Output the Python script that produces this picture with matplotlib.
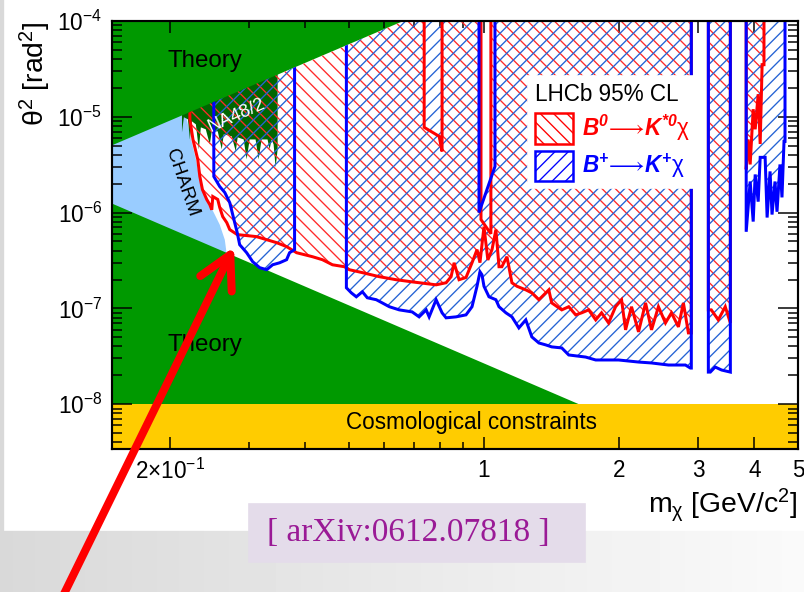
import numpy as np
import matplotlib
matplotlib.use("Agg")
import matplotlib.pyplot as plt
from matplotlib.patches import Polygon, Rectangle, Patch
from matplotlib.ticker import NullFormatter, FixedLocator, LogLocator

plt.rcParams['font.family'] = ['Liberation Sans', 'DejaVu Sans']
plt.rcParams['mathtext.fontset'] = 'custom'
plt.rcParams['mathtext.rm'] = 'Liberation Sans'
plt.rcParams['mathtext.it'] = 'Liberation Sans:italic'
plt.rcParams['mathtext.bf'] = 'Liberation Sans:bold:italic'
plt.rcParams['mathtext.default'] = 'regular'
plt.rcParams['mathtext.fallback'] = 'stix'
plt.rcParams['hatch.linewidth'] = 0.8

# ---- data (m in GeV, theta^2 in rad^2) ----
# 1e-3 = excluded all the way up (vetoed / off the plot)
b0_mass = [0.2215, 0.2215, 0.2250, 0.2306, 0.2331, 0.2362, 0.2415, 0.2453, 0.2478, 0.2491,
           0.2555, 0.2581, 0.2621, 0.2676, 0.2717, 0.2823, 0.3115, 0.3283, 0.3455, 0.3636,
           0.3827, 0.4152, 0.4369, 0.4600, 0.4890, 0.5017, 0.5362, 0.5848, 0.6377, 0.6920,
           0.7824, 0.8235, 0.8449, 0.8580, 0.8801, 0.9120, 0.9405, 0.9649, 0.9797, 1.000,
           1.020, 1.042, 1.063, 1.080, 1.096, 1.125, 1.154, 1.184, 1.239, 1.278,
           1.325, 1.394, 1.415, 1.490, 1.544, 1.600, 1.650, 1.710, 1.773, 1.827,
           1.894, 1.963, 2.024, 2.066, 2.130, 2.208, 2.289, 2.360, 2.445, 2.535,
           2.614, 2.709, 2.779, 2.851, 2.894, 2.894, 3.158, 3.158, 3.206, 3.323,
           3.444, 3.535, 3.535, 3.834, 3.834, 3.873, 3.913, 3.974, 4.015, 4.077,
           4.119, 4.160, 4.200, 4.200]
b0_limit = [1e-3, 9.4e-6, 5.8e-6, 3.59e-6, 2.38e-6, 1.74e-6, 1.37e-6, 1.21e-6, 1.07e-6, 1.47e-6,
            1.37e-6, 1.13e-6, 9.07e-7, 7.85e-7, 6.64e-7, 5.89e-7, 5.61e-7, 5.21e-7, 4.85e-7, 4.41e-7,
            3.81e-7, 3.46e-7, 3.22e-7, 2.85e-7, 2.72e-7, 2.53e-7, 2.36e-7, 2.14e-7, 1.99e-7, 1.89e-7,
            1.76e-7, 1.85e-7, 2.14e-7, 2.99e-7, 1.99e-7, 2.10e-7, 2.99e-7, 4.10e-7, 3.00e-7, 7.13e-7,
            3.20e-7, 4.10e-7, 6.64e-7, 2.72e-7, 2.72e-7, 3.46e-7, 1.85e-7, 1.70e-7, 1.56e-7, 1.45e-7,
            1.23e-7, 1.56e-7, 1.14e-7, 9.64e-8, 1.04e-7, 8.55e-8, 8.98e-8, 9.64e-8, 7.58e-8, 8.98e-8,
            7.04e-8, 1.04e-7, 1.23e-7, 5.96e-8, 1.04e-7, 5.68e-8, 1.14e-7, 5.96e-8, 1.04e-7, 7.04e-8,
            8.98e-8, 6.40e-8, 1.14e-7, 5.54e-8, 5.54e-8, 1e-3, 1e-3, 9.64e-8, 9.64e-8, 7.58e-8,
            1.04e-7, 7.04e-8, 1e-3, 1e-3, 2.82e-6, 5.8e-6, 3.18e-6, 1.2e-5, 7.4e-6, 1.72e-5,
            5.2e-6, 3.5e-5, 3.5e-5, 1e-3]
# upper edge of the B0 exclusion (notches where high theta^2 is not excluded)
b0_top_mass = [0.2215, 0.7360, 0.7360, 0.7947, 0.8067, 0.8067, 0.9848, 0.9848, 1.036, 1.036, 4.200]
b0_top_limit = [1e-3, 1e-3, 7.76e-6, 6.25e-6, 4.35e-6, 1e-3, 1e-3, 8.45e-7, 6.0e-7, 1e-3, 1e-3]

bp_mass = [0.2504, 0.2504, 0.2581, 0.2649, 0.2717, 0.2787, 0.2823, 0.2859, 0.2963, 0.3056,
           0.3167, 0.3283, 0.3385, 0.3508, 0.3636, 0.3692, 0.3788, 0.3788, 0.4940, 0.4940,
           0.5068, 0.5198, 0.5362, 0.5499, 0.5759, 0.5937, 0.6155, 0.6477, 0.6920, 0.7172,
           0.7435, 0.7550, 0.7824, 0.8067, 0.8235, 0.8667, 0.9120, 0.9405, 0.9649, 0.9797,
           0.9898, 1.000, 1.026, 1.063, 1.080, 1.119, 1.154, 1.196, 1.239, 1.278,
           1.325, 1.373, 1.415, 1.490, 1.544, 1.684, 1.773, 1.866, 1.993, 2.208,
           2.360, 2.574, 2.808, 2.880, 2.894, 2.894, 3.158, 3.158, 3.190, 3.270,
           3.380, 3.535, 3.535, 3.834, 3.834, 3.913, 3.974, 4.015, 4.077, 4.119,
           4.225, 4.268, 4.333, 4.377, 4.444, 4.490, 4.559, 4.606, 4.654, 4.678,
           4.678]
bp_limit = [1e-3, 2.38e-6, 1.87e-6, 1.62e-6, 1.27e-6, 7.85e-7, 6.18e-7, 4.62e-7, 3.81e-7, 3.07e-7,
            2.66e-7, 2.53e-7, 2.85e-7, 2.99e-7, 3.22e-7, 3.81e-7, 4.10e-7, 1e-3, 1e-3, 1.64e-7,
            1.45e-7, 1.32e-7, 1.49e-7, 1.29e-7, 1.23e-7, 1.14e-7, 1.04e-7, 9.64e-8, 9.18e-8, 8.15e-8,
            9.64e-8, 8.15e-8, 1.23e-7, 8.98e-8, 7.96e-8, 8.15e-8, 8.55e-8, 1.04e-7, 1.70e-7, 2.41e-7,
            2.24e-7, 1.70e-7, 1.32e-7, 1.23e-7, 1.04e-7, 8.98e-8, 8.15e-8, 6.25e-8, 7.58e-8, 5.03e-8,
            4.35e-8, 4.15e-8, 3.96e-8, 3.86e-8, 3.26e-8, 3.10e-8, 2.89e-8, 2.89e-8, 2.89e-8, 2.75e-8,
            2.69e-8, 2.56e-8, 2.56e-8, 2.38e-8, 2.38e-8, 1e-3, 1e-3, 2.16e-8, 2.16e-8, 2.44e-8,
            2.27e-8, 2.16e-8, 1e-3, 1e-3, 6.3e-7, 2.11e-6, 8.05e-7, 2.5e-6, 1.30e-6, 3.77e-6,
            3.77e-6, 8.87e-7, 2.69e-6, 9.53e-7, 2.11e-6, 1.02e-6, 3.18e-6, 1.44e-6, 5.54e-6, 5.54e-6,
            1e-3]
bp_top_mass = [0.2504, 0.9748, 0.9748, 1.058, 1.058, 4.678]
bp_top_limit = [1e-3, 1e-3, 1.0e-6, 3.03e-6, 1e-3, 1e-3]

# theory bands and other experiments
theory_hi_mass = [0.14, 0.70]
theory_hi_limit = [4.47e-6, 1.12e-4]
theory_lo_mass = [0.14, 1.625]
theory_lo_limit = [1.40e-6, 1.0e-8]
cosmo_limit = 1.0e-8

charm_mass = [0.14, 0.2137, 0.2215, 0.2284, 0.2331, 0.2391, 0.2453, 0.2516, 0.2581, 0.2649, 0.2676, 0.14]
charm_limit = [1.5e-5, 1.52e-5, 6.56e-6, 3.59e-6, 2.22e-6, 1.54e-6, 1.21e-6, 9.53e-7, 7.48e-7, 5.21e-7, 3.63e-7, 3.63e-7]

na48_mass = [0.2127, 0.2127, 0.2148, 0.2193, 0.2215, 0.2238, 0.2284, 0.2319, 0.2343, 0.2403,
             0.2453, 0.2478, 0.2555, 0.2608, 0.2635, 0.2745, 0.2802, 0.2830, 0.2918, 0.2963,
             0.3009, 0.3102, 0.3150, 0.3199, 0.3298, 0.3333, 0.3367, 0.3402, 0.3437, 0.3473,
             0.3473, 0.2127]
na48_limit = [3e-5, 6.88e-6, 9.89e-6, 9.4e-6, 5.8e-6, 8.97e-6, 8.34e-6, 4.57e-6, 7.76e-6, 7.4e-6,
              5.15e-6, 7.05e-6, 7.05e-6, 4.57e-6, 6.56e-6, 6.25e-6, 4.36e-6, 6.1e-6, 5.8e-6, 3.59e-6,
              5.8e-6, 5.8e-6, 3.59e-6, 5.8e-6, 5.8e-6, 4.57e-6, 5.8e-6, 5.15e-6, 2.96e-6, 4.57e-6,
              3e-5, 3e-5]

x_ticks = [0.2, 1, 2, 3, 4, 5]
x_ticklabels = [r'$2{\times}10^{-1}$', '1', '2', '3', '4', '5']
x_minor = [0.3, 0.4, 0.5, 0.6, 0.7, 0.8, 0.9]
y_ticks = [1e-8, 1e-7, 1e-6, 1e-5, 1e-4]
y_ticklabels = [r'$10^{-8}$', r'$10^{-7}$', r'$10^{-6}$', r'$10^{-5}$', r'$10^{-4}$']

RED = '#ff0000'
BLUE = '#0000ff'

fig = plt.figure(figsize=(6.7, 592 / 120), dpi=120)

# slide background, pixel coords
bg = fig.add_axes([0, 0, 1, 1], zorder=-5)
bg.set_xlim(0, 804)
bg.set_ylim(592, 0)
bg.axis('off')
shade = np.linspace(0.85, 0.98, 256)[None, :]
bg.imshow(shade, cmap='gray', vmin=0, vmax=1, aspect='auto', extent=[0, 804, 592, 0])
bg.add_patch(Rectangle((5, 0), 799, 530, color='white'))
bg.add_patch(Rectangle((249, 504), 336, 58, color='#e4dcea'))
bg.text(408, 533, '[ arXiv:0612.07818 ]', ha='center', va='center', fontsize=20,
        color='#9a1a96', family='Liberation Serif')

ax = fig.add_axes([112 / 804, 1 - 449 / 592, 686 / 804, 428 / 592])
ax.set_xscale('log')
ax.set_yscale('log')
ax.set_xlim(0.1486, 5.0)
ax.set_ylim(3.4e-9, 1.0e-4)

# everything below the upper theory line
clip = Polygon([(theory_hi_mass[0], theory_hi_limit[0]), (theory_hi_mass[1], theory_hi_limit[1]),
                (6, theory_hi_limit[1]), (6, 1e-10), (theory_hi_mass[0], 1e-10)],
               transform=ax.transData)

ax.fill(charm_mass, charm_limit, color='#99ccff', lw=0, zorder=1)
ax.fill(na48_mass, na48_limit, color='#006600', lw=0, zorder=1.2)
ax.fill(theory_hi_mass + [theory_hi_mass[0]], theory_hi_limit + [1e-3], color='#009900', lw=0, zorder=1.5)
ax.fill(theory_lo_mass + [theory_lo_mass[0]], theory_lo_limit + [cosmo_limit], color='#009900', lw=0, zorder=1.5)
ax.fill_between([0.1, 6], 1e-10, cosmo_limit, color='#ffcc00', lw=0, zorder=1.5)

# exclusion regions
for mass, lim, tm, tl, col, hcol, hatch, z in [
        (b0_mass, b0_limit, b0_top_mass, b0_top_limit, RED, '#ff2a2a', '\\\\\\', 2),
        (bp_mass, bp_limit, bp_top_mass, bp_top_limit, BLUE, '#2563d4', '///', 2.2)]:
    poly = ax.fill(np.r_[mass, tm[::-1]], np.r_[lim, tl[::-1]], facecolor='none',
                   edgecolor=hcol, hatch=hatch, lw=0, zorder=z)
    for p in poly:
        p.set_clip_path(clip)
    for xs, ys in [(mass, lim), (tm, tl)]:
        ln, = ax.plot(xs, ys, color=col, lw=1.8, zorder=z + 1, solid_joinstyle='miter')
        ln.set_clip_path(clip)

ax.text(0.239, 3.81e-5, 'Theory', fontsize=14.5, ha='center', va='center', zorder=4)
ax.text(0.239, 4.15e-8, 'Theory', fontsize=14.5, ha='center', va='center', zorder=4)
ax.text(0.936, 6.48e-9, 'Cosmological constraints', fontsize=13.5, ha='center', va='center', zorder=4)
ax.text(0.2120, 2.06e-6, 'CHARM', fontsize=11.5, rotation=-71, ha='center', va='center',
        rotation_mode='anchor', zorder=4)
ax.text(0.2816, 1.04e-5, 'NA48/2', fontsize=11, rotation=24, color='white', ha='center',
        va='center', rotation_mode='anchor', zorder=4)

# axes
ax.xaxis.set_major_locator(FixedLocator(x_ticks))
ax.set_xticklabels(x_ticklabels)
ax.xaxis.set_minor_locator(FixedLocator(x_minor))
ax.xaxis.set_minor_formatter(NullFormatter())
ax.yaxis.set_major_locator(FixedLocator(y_ticks))
ax.set_yticklabels(y_ticklabels)
ax.yaxis.set_minor_locator(LogLocator(base=10, subs=np.arange(2, 10), numticks=50))
ax.yaxis.set_minor_formatter(NullFormatter())
ax.tick_params(which='both', direction='in', top=True, right=True, width=0.9, labelsize=13.5)
ax.tick_params(axis='y', which='major', length=12, pad=6)
ax.tick_params(axis='y', which='minor', length=6)
ax.tick_params(axis='x', which='major', length=7, pad=6)
ax.tick_params(axis='x', which='minor', length=4)
for s in ax.spines.values():
    s.set_linewidth(1.3)
    s.set_zorder(6)

ax.text(-0.112, 1.0, r'$\theta^{2}$ [rad$^{2}$]', transform=ax.transAxes, rotation=90,
        ha='center', va='top', fontsize=17)
ax.text(1.0, -0.131, r'm$_{\chi}$ [GeV/c$^{2}$]', transform=ax.transAxes,
        ha='right', va='center', fontsize=17)

handles = [Patch(facecolor='white', edgecolor=RED, hatch='\\\\\\', lw=1.5),
           Patch(facecolor='white', edgecolor=BLUE, hatch='///', lw=1.5)]
labels = [r'$\mathbf{B^{0}}\!\longrightarrow\!\mathbf{K^{*0}}$χ',
          r'$\mathbf{B^{+}}\!\longrightarrow\!\mathbf{K^{+}}$χ']
leg = ax.legend(handles, labels, title='LHCb 95% CL', loc='upper left',
                bbox_to_anchor=(0.59, 0.897), frameon=True, fancybox=False,
                facecolor='white', edgecolor='white', framealpha=1, fontsize=13.5,
                title_fontsize=13.5, handlelength=1.7, handleheight=1.7,
                borderpad=0.3, labelspacing=0.3, handletextpad=0.4, alignment='left')
leg.set_zorder(7)
leg.get_texts()[0].set_color(RED)
leg.get_texts()[1].set_color(BLUE)

# red pointer arrow on the slide
ov = fig.add_axes([0, 0, 1, 1], zorder=10)
ov.set_xlim(0, 804)
ov.set_ylim(592, 0)
ov.axis('off')
ov.patch.set_alpha(0)
ov.annotate('', xy=(234, 247), xytext=(62, 598),
            arrowprops=dict(arrowstyle='->,head_length=0.65,head_width=0.35', mutation_scale=30,
                            color='#ff0000', lw=4.8, shrinkA=0, shrinkB=0),
            annotation_clip=False)

fig.savefig('out.png', dpi=120)
